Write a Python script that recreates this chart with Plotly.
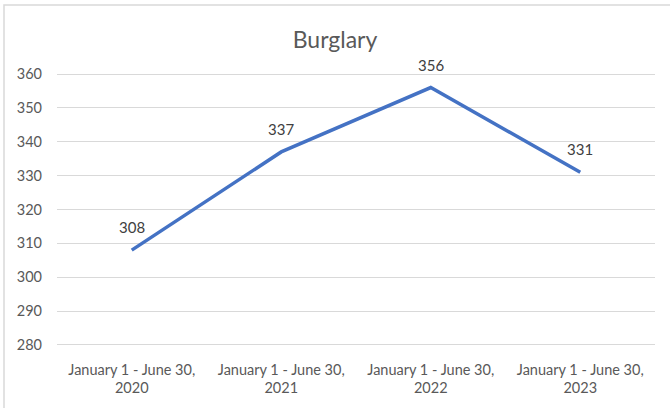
import plotly.graph_objects as go

categories = ["January 1 - June 30,<br>2020", "January 1 - June 30,<br>2021",
              "January 1 - June 30,<br>2022", "January 1 - June 30,<br>2023"]
values = [308, 337, 356, 331]
y_ticks = [280, 290, 300, 310, 320, 330, 340, 350, 360]

FONT = "Lato"
GRAY = "#595959"

fig = go.Figure()
fig.add_trace(go.Scatter(
    x=categories, y=values, mode="lines",
    line=dict(color="#4472C4", width=3.5),
    hoverinfo="skip", showlegend=False,
))

for c, v in zip(categories, values):
    fig.add_annotation(x=c, y=v, text=str(v), showarrow=False,
                       yshift=23,
                       font=dict(family=FONT, size=15, color="#404040"))

fig.update_layout(
    width=670, height=408,
    margin=dict(l=57, r=15, t=73, b=62),
    paper_bgcolor="white", plot_bgcolor="white",
    title=dict(text="Burglary", x=0.5, xanchor="center", y=0.902, yanchor="middle",
               font=dict(family=FONT, size=23, color=GRAY)),
    xaxis=dict(type="category", showgrid=False, zeroline=False, showline=False,
               ticks="", ticklabelstandoff=13,
               tickfont=dict(family=FONT, size=14.5, color=GRAY),
               range=[-0.5, 3.5]),
    yaxis=dict(range=[279.7, 360.3], tickvals=y_ticks, showgrid=True,
               gridcolor="#D9D9D9", gridwidth=1, zeroline=False, showline=False,
               ticks="", ticklabelstandoff=14,
               tickfont=dict(family=FONT, size=14.5, color=GRAY)),
    shapes=[dict(type="rect", xref="paper", yref="paper",
                 x0=(4 - 57) / 598, x1=(675 - 57) / 598,
                 y0=(346 - 412) / 273, y1=(346 - 5) / 273,
                 line=dict(color="#D9D9D9", width=1.5), layer="below")],
)

fig.write_html("out.html", config={"displayModeBar": False},
               post_script="document.body.style.margin='0';document.body.style.padding='0';")
